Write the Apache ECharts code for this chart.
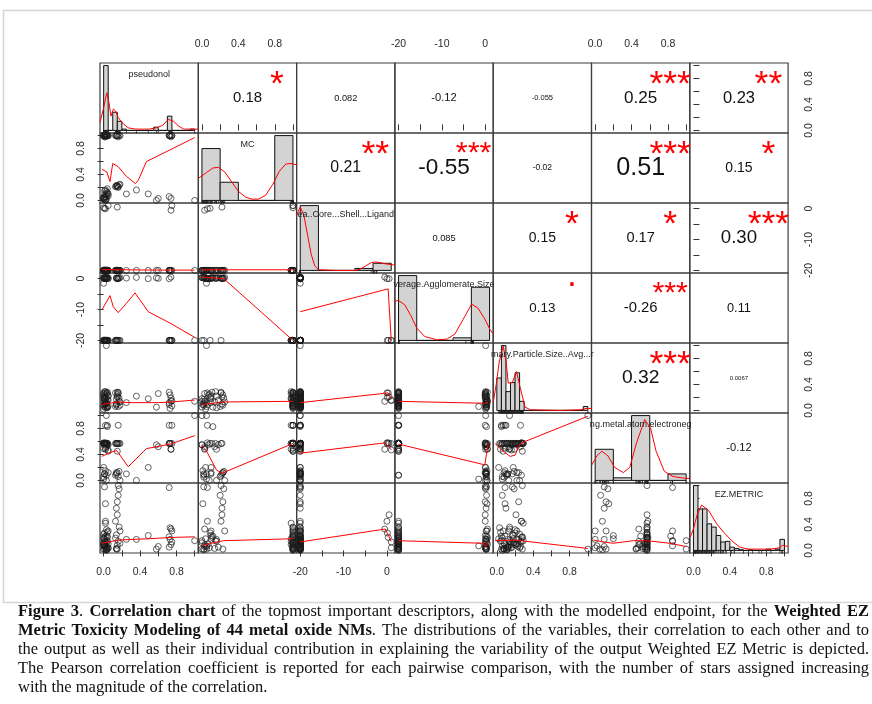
<!DOCTYPE html>
<html>
<head>
<meta charset="utf-8">
<script src="https://cdn.jsdelivr.net/npm/echarts@6/dist/echarts.min.js"></script>
<style>
html,body{margin:0;padding:0;background:#fff}
#chart{width:872px;height:704px}
</style>
</head>
<body>
<div id="chart"></div>
<script>
// ---- observations (one entry per sample, same order in every array) ----
const pseudonol = [0.01,0.02,0.00,0.03,0.04,0.01,0.02,0.00,0.05,0.03, 0.01,0.02,0.04,0.00,0.03,0.01,0.02,0.05,0.00,0.04, 0.14,0.15,0.16,0.13,0.17,0.15,0.18,0.14,0.72,0.73, 0.75,0.74,0.72,0.73,0.75,0.00,0.01,0.02,0.03,0.04, 0.00,0.05,0.01,0.02,0.03,0.04,0.00,0.01,0.02,0.05, 0.03,0.00,0.04,0.01,0.02,0.25,0.36,0.49,0.58,0.60, 0.74,0.72,1.00,0.03,0.14,0.15,0.16,0.17,0.13,0.18, 0.15,0.14,0.16];
const mc = [1.0,1.0,1.0,1.0,1.0,0.98,1.0,1.0,1.0,1.0, 1.0,0.98,1.0,1.0,1.0,1.0,1.0,1.0,1.0,1.0, 1.0,1.0,0.98,1.0,1.0,1.0,1.0,1.0,1.0,1.0, 1.0,0.98,1.0,1.0,1.0,0.02,0.05,0.00,0.08,0.12, 0.03,0.10,0.15,0.06,0.02,0.18,0.04,0.09,0.01,0.07, 0.14,0.05,0.11,0.02,0.16,0.10,0.16,0.10,0.00,0.03, 0.03,0.06,0.00,0.05,0.22,0.23,0.20,0.24,0.21,0.25, 0.22,0.23,0.21];
const coreShellLigand = [-20,-20,-20,-20,-20,-20,-20,-20,-20,-20, -20,-20,-20,0.3,-20,-20,-20,1.0,-20,-20, -20,-20,-20,-20,-20,-20,-20,-20,-20,-20, -20,-20,-20,-20,1.0,-20,-20,-20,-20,-20, -20,-20,-20,0.0,-20,-20,-20,0.1,-20,-20, -20,-20,-20,-20,-20,-20,-20,-20,-20,-20, -0.5,-20,-20,-20,-20,-20,-20,-20,-20,-20, 0.5,-20,-20];
const agglomerateSize = [-20,-20,-20,-20,-20,-20,-20,-20,-20,-20, -20,-20,-20,-20,-20,-20,-20,-20,-20,-20, -20,-20,-20,-20,-20,-20,-20,-20,-20,-20, -20,-20,-20,-20,-20,0.2,0.1,0.4,0.0,0.3, 0.5,0.2,0.1,0.0,-20,0.3,0.1,-20,0.4,0.0, 0.2,-1.5,0.5,0.3,0.1,0.2,0.4,0.0,0.3,0.1, 0.5,0.0,-20,0.1,0.2,0.0,0.3,0.1,-20,0.4, 0.0,0.2,0.1];
const primarySize = [0.08,0.12,0.22,0.06,0.27,0.18,0.10,0.25,0.07,0.20, 0.15,0.29,0.05,0.27,0.11,0.23,0.09,0.16,0.19,0.04, 0.10,0.21,0.26,0.06,0.14,0.28,0.08,0.17,0.12,0.24, 0.07,0.19,0.28,0.03,0.15,0.08,0.12,0.18,0.25,0.05, 0.14,0.22,0.29,0.27,0.11,0.16,0.02,0.20,0.09,0.23, 0.13,0.06,0.28,0.17,0.04,0.12,0.22,0.18,0.05,0.26, 0.14,0.09,0.14,1.00,0.10,0.24,0.06,0.19,0.27,0.13, 0.21,0.08,0.28];
const electroneg = [0.57,0.57,0.57,0.57,0.57,0.57,0.85,0.57,0.45,0.57, 0.57,0.57,0.85,0.58,0.57,0.57,0.50,0.47,0.57,0.57, 0.57,0.57,0.85,0.57,0.57,0.45,0.57,0.57,0.57,0.57, 0.85,0.48,0.57,0.57,0.57,0.05,0.10,0.55,0.00,0.83, 0.49,0.12,0.57,0.58,0.08,0.55,0.20,0.57,0.15,0.55, 0.52,0.02,0.57,0.10,0.48,0.10,0.00,0.20,0.55,0.52, 0.48,0.85,1.00,1.00,0.10,0.12,0.06,0.14,0.08,0.00, 0.57,0.12,0.57];
const ezMetric = [0.02,0.05,0.10,0.00,0.13,0.18,0.07,0.25,0.03,0.32, 0.09,0.42,0.15,0.20,0.01,0.06,0.22,0.04,0.12,0.28, 0.03,0.08,0.14,0.19,0.36,0.02,0.11,0.24,0.05,0.17, 0.30,0.09,0.21,0.35,0.13,0.02,0.06,0.12,0.04,0.22, 0.09,0.30,0.15,0.45,0.01,0.05,0.18,0.27,0.72,0.10, 0.03,0.07,0.20,0.98,0.14,0.17,0.17,0.23,0.02,0.06, 0.33,0.97,0.15,0.02,0.65,0.75,0.85,0.95,0.45,0.30, 0.55,0.02,1.00];

// ---- diagonal labels ----
const varLabels = ['pseudonol', 'MC', 'ea..Core...Shell...Ligand', 'verage.Agglomerate.Size',
                   'mary.Particle.Size..Avg...r', 'ng.metal.atom.electroneg', 'EZ.METRIC'];

// ---- histogram break points ----
const breaksFine = [0,0.05,0.1,0.15,0.2,0.25,0.3,0.35,0.4,0.45,0.5,0.55,0.6,0.65,0.7,0.75,0.8,0.85,0.9,0.95,1.0];
const breaksCoarse = [0,0.2,0.4,0.6,0.8,1.0];
const breaksNeg = [-20,-15,-10,-5,0,5];

// ---- histogram heights (relative density) ----
const pseudonolHist = [1.0,0,0.28,0.14,0.02,0,0,0,0,0,0,0.05,0,0,0.22,0,0,0,0,0.02];
const mcHist = [0.8,0.28,0,0,1.0];
const coreShellHist = [1.0,0,0,0.03,0.11];
const agglomerateHist = [1.0,0,0,0.04,0.82];
const primarySizeHist = [0.5,1.0,0.29,0.43,0.58,0.14,0,0,0,0,0,0,0,0,0,0,0,0,0,0.06];
const electronegHist = [0.48,0.04,1.0,0,0.1];
const ezHist = [1.0,0.64,0.64,0.41,0.36,0.23,0.13,0.14,0.05,0.03,0.01,0,0.01,0,0,0,0.02,0,0.02,0.17];

// ---- kernel density curves ----
const pseudonolDensity = [[-0.04,0.12],[0.0,0.35],[0.034,0.58],[0.06,0.42],[0.08,0.22],[0.107,0.33],[0.13,0.3],[0.16,0.2],[0.2,0.12],[0.27,0.04],[0.35,0.02],[0.5,0.02],[0.58,0.04],[0.65,0.08],[0.71,0.17],[0.77,0.14],[0.82,0.07],[0.88,0.02],[1.0,0.02],[1.04,0.02]];
const mcDensity = [[-0.04,0.34],[0.05,0.43],[0.12,0.5],[0.18,0.51],[0.25,0.44],[0.32,0.3],[0.4,0.14],[0.48,0.05],[0.55,0.02],[0.62,0.02],[0.7,0.08],[0.78,0.25],[0.85,0.45],[0.92,0.56],[0.98,0.57],[1.04,0.55]];
const coreShellDensity = [[-21,0.85],[-20,0.98],[-19,0.85],[-18,0.55],[-17,0.25],[-16,0.07],[-15,0.01],[-10,0.0],[-5,0.0],[-3.5,0.02],[-2,0.07],[-0.5,0.12],[0.5,0.13],[2,0.12],[3.5,0.1],[5,0.09],[6,0.08]];
const agglomerateDensity = [[-21,0.6],[-20.1,0.62],[-18.3,0.55],[-16.6,0.38],[-15,0.19],[-12.8,0.06],[-9.5,0.01],[-6.7,0.02],[-4.5,0.1],[-2.3,0.32],[0.07,0.56],[1.8,0.5],[3.7,0.33],[5.1,0.17],[6,0.1]];
const primarySizeDensity = [[-0.04,0.12],[-0.007,0.4],[0.026,0.75],[0.07,0.99],[0.103,0.75],[0.125,0.42],[0.17,0.43],[0.216,0.6],[0.257,0.35],[0.31,0.05],[0.37,0.01],[0.7,0.0],[0.92,0.01],[0.98,0.03],[1.04,0.03]];
const electronegDensity = [[-0.036,0.24],[0.02,0.38],[0.073,0.45],[0.14,0.38],[0.215,0.2],[0.31,0.12],[0.38,0.2],[0.455,0.58],[0.545,0.94],[0.61,0.8],[0.67,0.45],[0.76,0.14],[0.855,0.06],[1.0,0.03],[1.04,0.03]];
const ezDensity = [[-0.036,0.2],[0,0.33],[0.04,0.55],[0.09,0.7],[0.165,0.62],[0.255,0.41],[0.345,0.26],[0.436,0.13],[0.51,0.05],[0.6,0.02],[0.84,0.02],[0.945,0.04],[0.98,0.08],[1.04,0.06]];

// ---- smoothed fits in the lower panels (y variable vs x variable) ----
const smoothMcPseudonol = [[-0.02,0.48],[0.034,0.44],[0.07,0.29],[0.1,0.57],[0.16,0.52],[0.25,0.37],[0.35,0.26],[0.38,0.31],[0.47,0.6],[0.73,0.78],[1.0,0.97]];
const smoothCorePseudonol = [[-0.02,-19.7],[0.2,-19.8],[0.6,-19.9],[1.0,-19.9]];
const smoothAggPseudonol = [[-0.02,-10.15],[0.07,-5.5],[0.106,-9.1],[0.16,-11.0],[0.25,-8.0],[0.345,-4.6],[0.49,-10.7],[0.73,-14.4],[1.0,-19.0]];
const smoothSizePseudonol = [[-0.02,0.09],[0.15,0.13],[0.3,0.12],[0.6,0.12],[0.75,0.13],[1.0,0.16]];
const smoothElecPseudonol = [[-0.02,0.37],[0.07,0.43],[0.144,0.46],[0.27,0.21],[0.47,0.49],[0.73,0.56],[1.0,0.69]];
const smoothEzPseudonol = [[-0.02,0.11],[0.1,0.14],[0.16,0.16],[0.5,0.18],[0.75,0.2],[1.0,0.21]];
const smoothCoreMc = [[0.0,-19.8],[1.0,-19.8]];
const smoothAggMc = [[0.0,0.5],[0.24,0.0],[1.0,-20]];
const smoothSizeMc = [[0.0,0.09],[0.24,0.13],[1.0,0.14]];
const smoothElecMc = [[0.0,0.54],[0.055,0.44],[0.16,0.16],[0.22,0.11],[1.0,0.57]];
const smoothEzMc = [[0.0,0.07],[0.1,0.11],[0.24,0.15],[1.0,0.18]];
const smoothAggCore = [[-20,-10.7],[0.28,-3.3],[1.0,-20]];
const smoothSizeCore = [[-20,0.12],[0.28,0.27],[1.0,0.18]];
const smoothElecCore = [[-20,0.42],[-0.4,0.58],[1.0,0.47]];
const smoothEzCore = [[-20,0.13],[-0.4,0.33],[1.0,0.14]];
const smoothSizeAgg = [[-20,0.14],[-0.1,0.11],[0.7,0.13]];
const smoothElecAgg = [[-20,0.56],[-0.1,0.24],[0.7,0.57]];
const smoothEzAgg = [[-20,0.15],[-0.5,0.11],[0.1,0.06],[0.7,0.14]];
const smoothElecSize = [[-0.02,0.57],[0.036,0.49],[0.146,0.37],[0.2,0.39],[0.256,0.57],[1.0,0.99]];
const smoothEzSize = [[-0.02,0.15],[0.2,0.16],[1.0,0.03]];
const smoothEzElec = [[-0.02,0.16],[0.09,0.13],[0.2,0.11],[0.42,0.15],[0.57,0.15],[0.82,0.11],[1.0,0.06]];

// ---- Pearson coefficients and significance marks (upper panels, row by row) ----
const corrText = [
  ['0.18','0.082','-0.12','-0.055','0.25','0.23'],
  ['0.21','-0.55','-0.02','0.51','0.15'],
  ['0.085','0.15','0.17','0.30'],
  ['0.13','-0.26','0.11'],
  ['0.32','0.0067'],
  ['-0.12']
];
const corrStars = [
  ['*','','','','***','**'],
  ['**','***','','***','*'],
  ['','*','*','***'],
  ['.','***',''],
  ['***',''],
  ['']
];

// ---- axis ticks ----
const unitTicks = [0,0.2,0.4,0.6,0.8,1.0];
const unitTickLabels = [0,0.4,0.8];
const negTicks = [-20,-15,-10,-5,0];
const negTickLabels = [-20,-10,0];

// ---- caption ----
const captionLines = [
  [['Figure 3', true], ['. ', false], ['Correlation chart', true], [' of the topmost important descriptors, along with the modelled endpoint, for the ', false], ['Weighted EZ', true]],
  [['Metric Toxicity Modeling of 44 metal oxide NMs', true], ['. The distributions of the variables, their correlation to each other and to', false]],
  [['the output as well as their individual contribution in explaining the variability of the output Weighted EZ Metric is depicted.', false]],
  [['The Pearson correlation coefficient is reported for each pairwise comparison, with the number of stars assigned increasing', false]],
  [['with the magnitude of the correlation.', false]]
];

// ================= layout & drawing =================
const SANS = '"Liberation Sans", Arial, sans-serif';
const SERIF = '"Liberation Serif", "Times New Roman", serif';
const P_LEFT = 100, P_TOP = 63, P_W = 98.3, P_H = 70;
const NV = 7;

const variables = [pseudonol, mc, coreShellLigand, agglomerateSize, primarySize, electroneg, ezMetric];
const isNeg = [false, false, true, true, false, false, false];
const unitRange = [-0.04, 1.04];
const negRange = [-20.84, 1.84];
const varRange = k => isNeg[k] ? negRange : unitRange;

const histBreaks = [breaksFine, breaksCoarse, breaksNeg, breaksNeg, breaksFine, breaksCoarse, breaksFine];
const histHeights = [pseudonolHist, mcHist, coreShellHist, agglomerateHist, primarySizeHist, electronegHist, ezHist];
const densities = [pseudonolDensity, mcDensity, coreShellDensity, agglomerateDensity, primarySizeDensity, electronegDensity, ezDensity];
const diagXRange = k => isNeg[k] ? [-21, 6] : unitRange;

const smoothLines = [
  [1,0,smoothMcPseudonol],[2,0,smoothCorePseudonol],[3,0,smoothAggPseudonol],[4,0,smoothSizePseudonol],[5,0,smoothElecPseudonol],[6,0,smoothEzPseudonol],
  [2,1,smoothCoreMc],[3,1,smoothAggMc],[4,1,smoothSizeMc],[5,1,smoothElecMc],[6,1,smoothEzMc],
  [3,2,smoothAggCore],[4,2,smoothSizeCore],[5,2,smoothElecCore],[6,2,smoothEzCore],
  [4,3,smoothSizeAgg],[5,3,smoothElecAgg],[6,3,smoothEzAgg],
  [5,4,smoothElecSize],[6,4,smoothEzSize],
  [6,5,smoothEzElec]
];

const grids = [], xAxes = [], yAxes = [], series = [], graphics = [];
const gi = (i, j) => i * NV + j;
const fmt = k => (v => isNeg[k] ? String(v) : v.toFixed(1));

function makeAxis(g, range, showIt, position, k, isY) {
  const ax = {
    gridIndex: g, type: 'value', min: range[0], max: range[1], position: position,
    axisLine: { show: false }, splitLine: { show: false },
    axisTick: { show: false }, axisLabel: { show: false }
  };
  if (showIt) {
    ax.axisTick = { show: true, inside: false, length: 6, customValues: isNeg[k] ? negTicks : unitTicks,
                    lineStyle: { color: '#333', width: 1 } };
    ax.axisLabel = { show: true, customValues: isNeg[k] ? negTickLabels : unitTickLabels,
                     formatter: fmt(k), fontSize: 10.5, color: '#2a2a2a', fontFamily: SANS,
                     margin: isY ? (position === 'left' ? 13 : 16) : (position === 'top' ? 13 : 14),
                     rotate: isY ? 90 : 0 };
  }
  return ax;
}

for (let i = 0; i < NV; i++) {
  for (let j = 0; j < NV; j++) {
    const g = gi(i, j);
    const left = P_LEFT + j * P_W, top = P_TOP + i * P_H;
    grids.push({ left: left, top: top, width: P_W, height: P_H, show: true,
                 borderColor: '#3c3c3c', borderWidth: 1.2, backgroundColor: 'transparent' });
    const xr = i === j ? diagXRange(i) : varRange(j);
    const yr = i === j ? unitRange : varRange(i);
    const showTop = i === 0 && j % 2 === 1;
    const showBottom = i === NV - 1 && j % 2 === 0;
    const showLeft = j === 0 && i % 2 === 1;
    const showRight = j === NV - 1 && i % 2 === 0;
    xAxes.push(makeAxis(g, xr, showTop || showBottom, showTop ? 'top' : 'bottom', j, false));
    yAxes.push(makeAxis(g, yr, showLeft || showRight, showRight ? 'right' : 'left', i, true));

    if (i === j) {
      // histogram
      const br = histBreaks[i], hh = histHeights[i];
      series.push({
        type: 'custom', xAxisIndex: g, yAxisIndex: g, silent: true, clip: false,
        data: hh.map((h, k) => [br[k], br[k + 1], h]),
        encode: { x: [0, 1], y: 2 },
        renderItem: (params, api) => {
          const p0 = api.coord([api.value(0), api.value(2)]);
          const p1 = api.coord([api.value(1), 0]);
          return { type: 'rect', shape: { x: p0[0], y: p0[1], width: p1[0] - p0[0], height: p1[1] - p0[1] },
                   style: { fill: '#d3d3d3', stroke: '#111', lineWidth: 1 } };
        }
      });
      // density
      series.push({ type: 'line', xAxisIndex: g, yAxisIndex: g, data: densities[i], symbol: 'none',
                    lineStyle: { color: '#ff0000', width: 1 }, silent: true, z: 3 });
      // rug
      series.push({ type: 'scatter', xAxisIndex: g, yAxisIndex: g, silent: true,
                    data: variables[i].map(v => [v, -0.024]), symbol: 'rect', symbolSize: [1, 3],
                    itemStyle: { color: '#222' }, z: 4 });
      // variable name
      graphics.push({ type: 'text', x: left + P_W / 2, y: top + 12, silent: true, z: 10,
                      style: { text: varLabels[i], fontFamily: SANS, fontSize: 9, fill: '#222',
                               textAlign: 'center', textVerticalAlign: 'middle' } });
    } else if (i > j) {
      series.push({ type: 'scatter', xAxisIndex: g, yAxisIndex: g, silent: true, clip: false,
                    data: variables[j].map((v, k) => [v, variables[i][k]]),
                    symbol: 'circle', symbolSize: 6,
                    itemStyle: { color: 'rgba(0,0,0,0)', borderColor: '#1a1a1a', borderWidth: 0.85 } });
    }
  }
}

smoothLines.forEach(([i, j, pts]) => {
  series.push({ type: 'line', xAxisIndex: gi(i, j), yAxisIndex: gi(i, j), data: pts, symbol: 'none',
                lineStyle: { color: '#ff0000', width: 1 }, silent: true, z: 3 });
});

// correlation text: width scales with |r|, stars sized on the same base
const emW = s => { let w = 0; for (const c of s) w += c === '.' ? 0.278 : (c === '-' ? 0.333 : 0.556); return w; };
corrText.forEach((row, i) => {
  row.forEach((txt, m) => {
    const j = i + 1 + m;
    const left = P_LEFT + j * P_W, top = P_TOP + i * P_H;
    const r = Math.abs(parseFloat(txt));
    const base = 0.8 * P_W / emW(txt);
    const fs = base * (r + 0.3) / 1.3;
    graphics.push({ type: 'text', x: left + P_W * 0.5, y: top + P_H * 0.5, silent: true, z: 10,
                    style: { text: txt, fontFamily: SANS, fontSize: fs, fill: '#111',
                             textAlign: 'center', textVerticalAlign: 'middle' } });
    const st = corrStars[i][m];
    if (st) {
      const sfs = base * 0.88;
      const shift = st === '.' ? -0.3 * sfs : 0.23 * sfs;
      graphics.push({ type: 'text', x: left + P_W * 0.8, y: top + P_H * 0.2 + shift, silent: true, z: 10,
                      style: { text: st, fontFamily: SANS, fontSize: sfs, fill: '#ff0000',
                               textAlign: 'center', textVerticalAlign: 'middle' } });
    }
  });
});

// frame around the figure
graphics.push({ type: 'rect', shape: { x: 3.5, y: 10.5, width: 900, height: 592 }, silent: true, z: 0,
                style: { fill: 'none', stroke: '#d6d6d6', lineWidth: 1.5 } });

// justified caption
const CAP_SIZE = 16.5, CAP_L = 18, CAP_R = 869;
const capY = [612, 631, 650, 669, 688];
const mctx = document.createElement('canvas').getContext('2d');
const measure = (t, bold) => { mctx.font = (bold ? 'bold ' : '') + CAP_SIZE + 'px ' + SERIF; return mctx.measureText(t).width; };
function splitWords(line) {
  const words = []; let cur = [];
  line.forEach(([text, bold]) => {
    text.split(' ').forEach((p, k) => {
      if (k > 0) { if (cur.length) words.push(cur); cur = []; }
      if (p) cur.push([p, bold]);
    });
  });
  if (cur.length) words.push(cur);
  return words;
}
captionLines.forEach((line, li) => {
  const words = splitWords(line);
  const widths = words.map(w => w.reduce((s, [t, b]) => s + measure(t, b), 0));
  const total = widths.reduce((a, b) => a + b, 0);
  const last = li === captionLines.length - 1;
  const gap = last ? measure(' ', false) : (CAP_R - CAP_L - total) / (words.length - 1);
  let x = CAP_L;
  words.forEach((w, k) => {
    let xx = x;
    w.forEach(([t, b]) => {
      graphics.push({ type: 'text', x: xx, y: capY[li], silent: true, z: 10,
                      style: { text: t, fontFamily: SERIF, fontSize: CAP_SIZE, fontWeight: b ? 'bold' : 'normal',
                               fill: '#111', textAlign: 'left', textVerticalAlign: 'middle' } });
      xx += measure(t, b);
    });
    x += widths[k] + gap;
  });
});

const chart = echarts.init(document.getElementById('chart'), null, { renderer: 'canvas' });
chart.setOption({
  animation: false,
  backgroundColor: '#ffffff',
  grid: grids,
  xAxis: xAxes,
  yAxis: yAxes,
  series: series,
  graphic: { elements: graphics }
});
</script>
</body>
</html>
